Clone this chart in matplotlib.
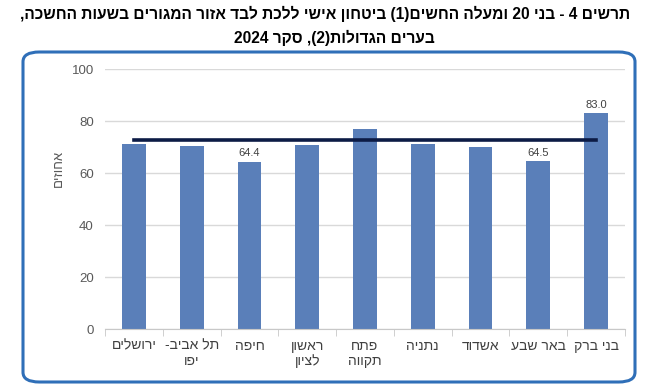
import re
import matplotlib
matplotlib.use("Agg")
import matplotlib.pyplot as plt
from matplotlib.patches import FancyBboxPatch

plt.rcParams["font.family"] = ["Liberation Sans", "DejaVu Sans"]


def rtl(s):
    # crude visual ordering for Hebrew text (matplotlib has no bidi)
    r = s[::-1].translate(str.maketrans("()", ")("))
    return re.sub(r"[0-9.]+", lambda m: m.group()[::-1], r)


cities = ["ירושלים", "תל אביב-\nיפו", "חיפה", "ראשון\nלציון", "פתח\nתקווה",
          "נתניה", "אשדוד", "באר שבע", "בני ברק"]
values = [71.3, 70.5, 64.4, 70.9, 77.1, 71.1, 69.9, 64.5, 83.0]
average = [72.8] * len(cities)
labelled = {2: "64.4", 7: "64.5", 8: "83.0"}

title_1 = "תרשים 4 - בני 20 ומעלה החשים(1) ביטחון אישי ללכת לבד אזור המגורים בשעות החשכה,"
title_2 = "בערים הגדולות(2), סקר 2024"
y_label = "אחוזים"

fig = plt.figure(figsize=(6.5, 3.9), dpi=100)

box = FancyBboxPatch((23 / 650, 1 - 382 / 390), 612 / 650, 330 / 390,
                     boxstyle="round,pad=0,rounding_size=0.025",
                     transform=fig.transFigure, facecolor="white",
                     edgecolor="#2f6fb8", linewidth=2.2, zorder=-5)
fig.add_artist(box)

fig.text(0.5, 1 - 14 / 390, rtl(title_1), ha="center", va="center",
         fontsize=11.2, fontweight="bold", color="black")
fig.text(334 / 650, 1 - 38 / 390, rtl(title_2), ha="center", va="center",
         fontsize=11.2, fontweight="bold", color="black")

ax = fig.add_axes([105 / 650, 1 - 329 / 390, 520 / 650, 260 / 390])
ax.set_facecolor("none")
x = list(range(len(cities)))
ax.bar(x, values, width=0.41, color="#5a7fb9", zorder=2)
ax.plot(x, average, color="#0c1b45", linewidth=2.6, zorder=3)

for i, txt in labelled.items():
    ax.text(i, values[i] + 1.2, txt, ha="center", va="bottom",
            fontsize=8, color="#404040")

ax.set_xlim(-0.5, len(cities) - 0.5)
ax.set_ylim(0, 100)
ax.set_yticks(range(0, 101, 20))
ax.yaxis.grid(True, color="#d9d9d9", linewidth=1)
ax.set_axisbelow(True)
for side in ["left", "right", "top"]:
    ax.spines[side].set_visible(False)
ax.spines["bottom"].set_color("#c8c8c8")
ax.tick_params(axis="y", length=0, labelsize=9.5, labelcolor="#595959", pad=8)
ax.set_xticks(x)
ax.set_xticklabels(["\n".join(rtl(p) for p in c.split("\n")) for c in cities],
                   fontsize=10, color="#404040", linespacing=1.15)
ax.tick_params(axis="x", length=0, pad=7)
ax.set_xticks([i - 0.5 for i in range(len(cities) + 1)], minor=True)
ax.tick_params(axis="x", which="minor", length=5, color="#c8c8c8")

fig.text(59 / 650, 1 - 168 / 390, rtl(y_label), rotation=90, ha="center",
         va="center", fontsize=9.5, color="#595959")

fig.savefig("out.png", dpi=100)
